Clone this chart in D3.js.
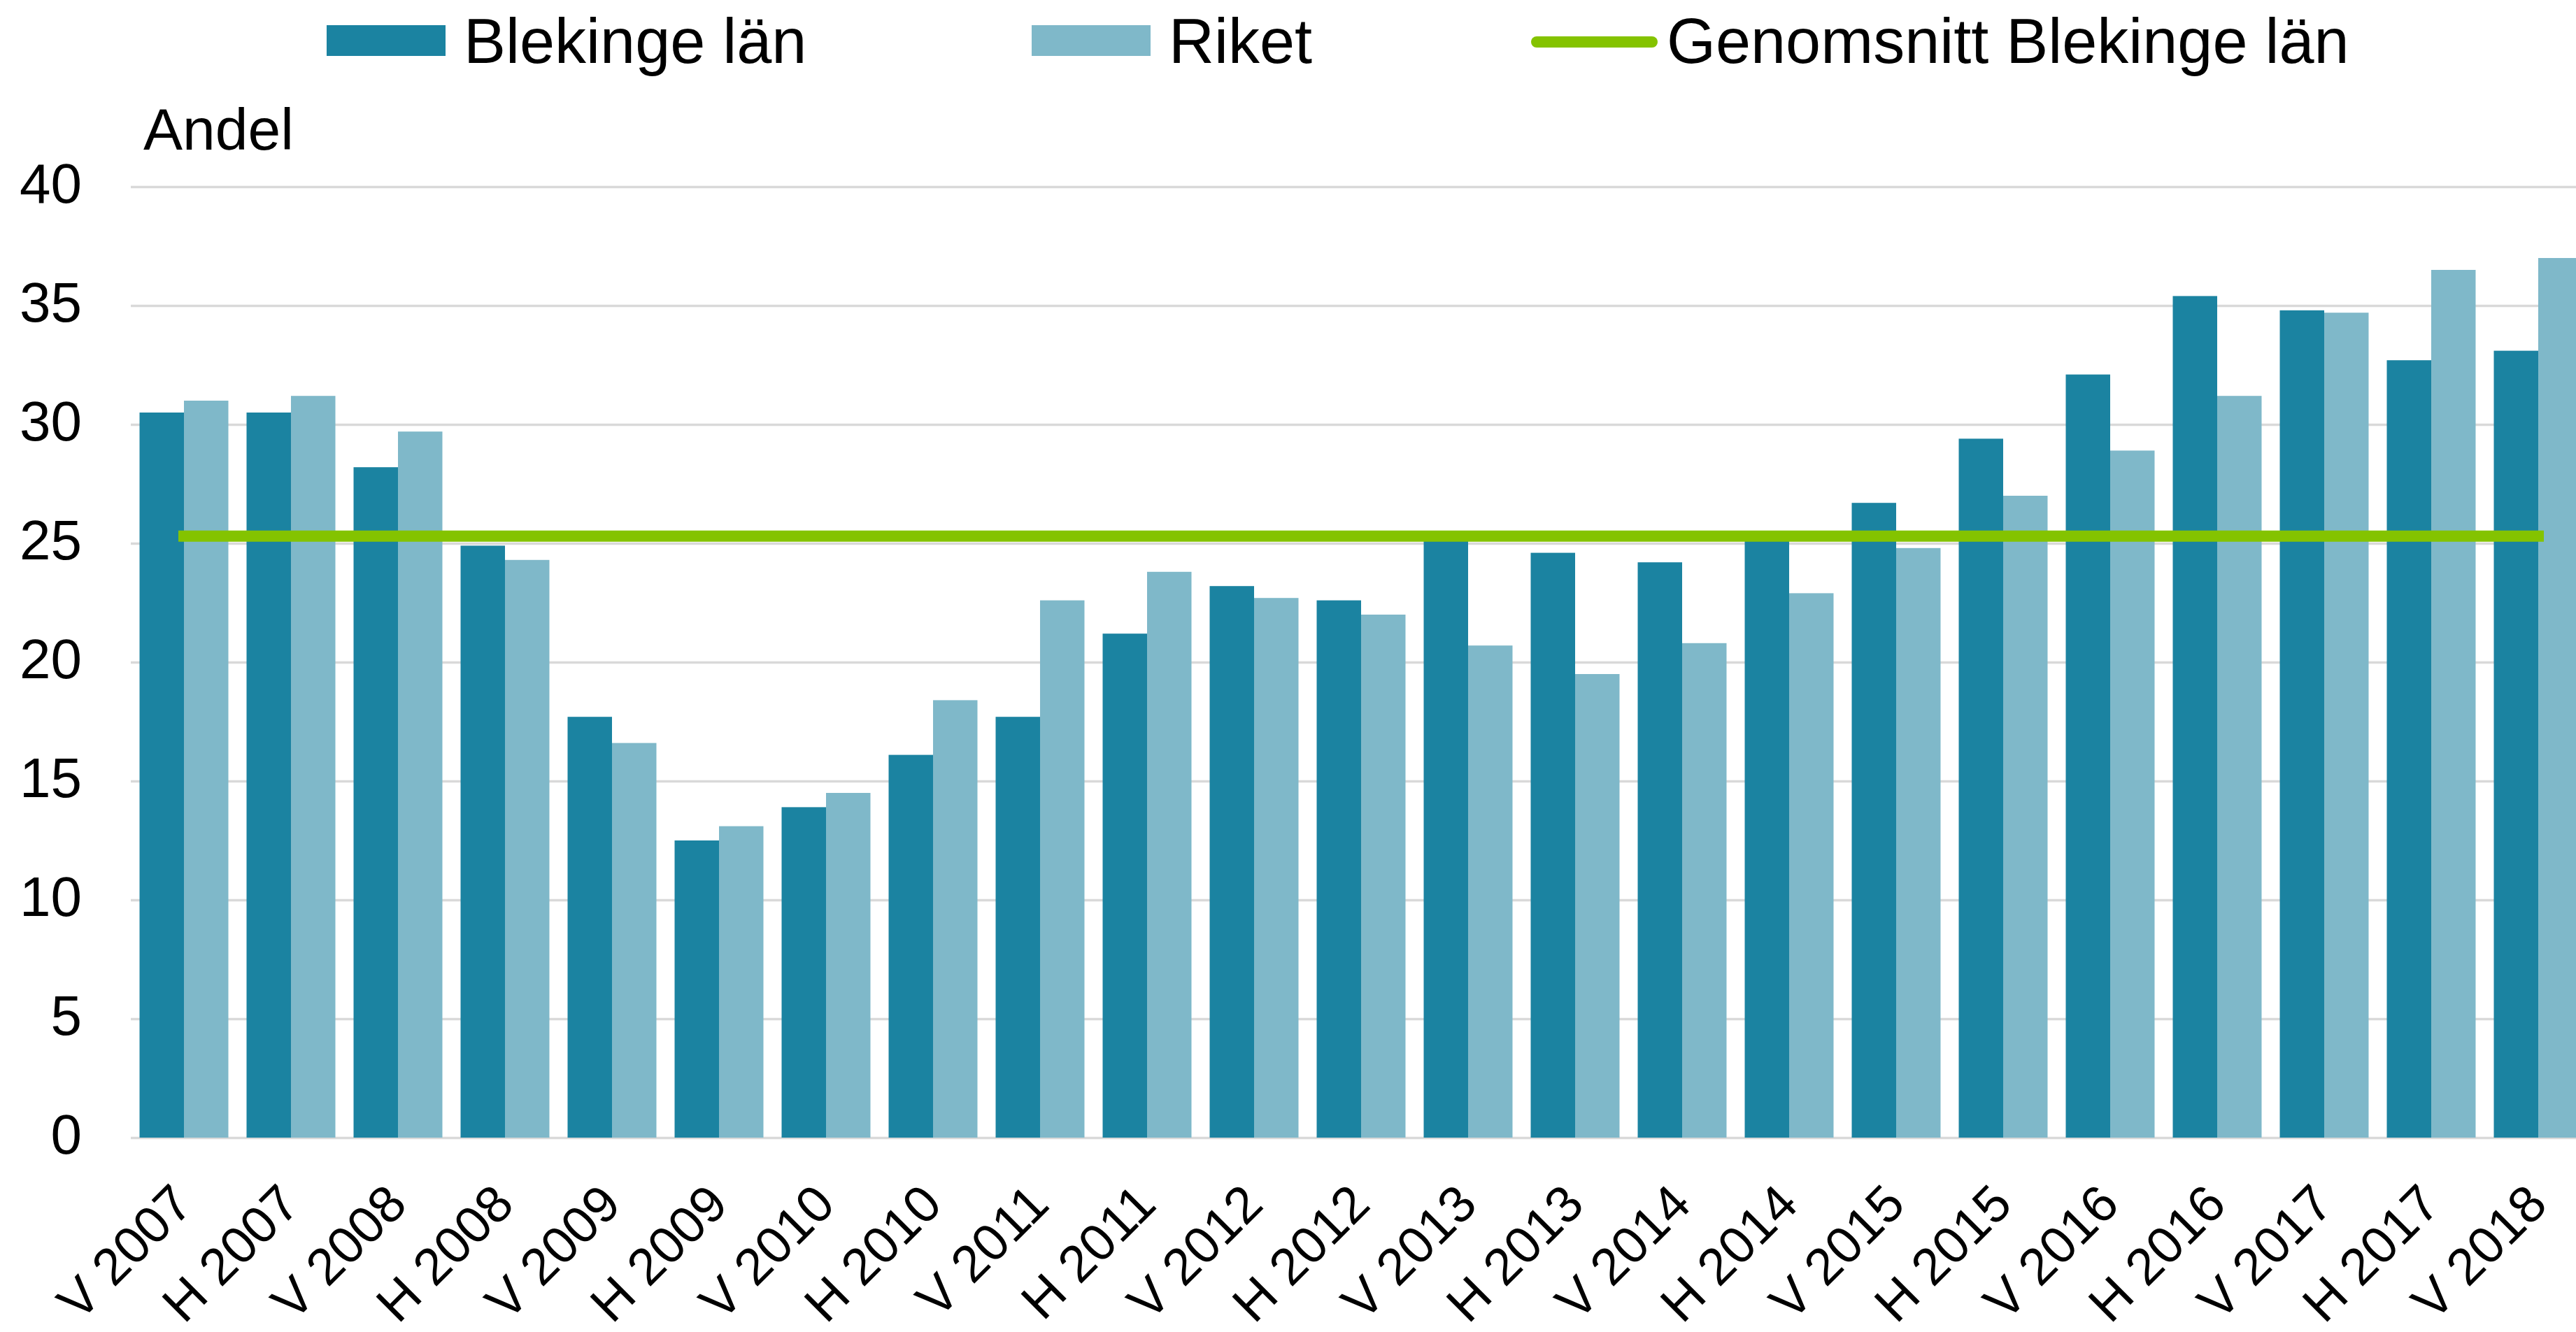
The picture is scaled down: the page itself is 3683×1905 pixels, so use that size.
<!DOCTYPE html>
<html>
<head>
<meta charset="utf-8">
<script src="https://cdn.jsdelivr.net/npm/d3@7"></script>
<style>
  body { margin: 0; background: #fff; }
  svg { display: block; font-family: "Liberation Sans", Arial, sans-serif; }
</style>
</head>
<body>
<div id="chart"></div>
<script>
// categories (half years)
let categories = ["V 2007", "H 2007", "V 2008", "H 2008", "V 2009", "H 2009", "V 2010", "H 2010",
                  "V 2011", "H 2011", "V 2012", "H 2012", "V 2013", "H 2013", "V 2014", "H 2014",
                  "V 2015", "H 2015", "V 2016", "H 2016", "V 2017", "H 2017", "V 2018"];
let blekinge = [30.5, 30.5, 28.2, 24.9, 17.7, 12.5, 13.9, 16.1, 17.7, 21.2, 23.2, 22.6,
                25.2, 24.6, 24.2, 25.2, 26.7, 29.4, 32.1, 35.4, 34.8, 32.7, 33.1];
let riket    = [31.0, 31.2, 29.7, 24.3, 16.6, 13.1, 14.5, 18.4, 22.6, 23.8, 22.7, 22.0,
                20.7, 19.5, 20.8, 22.9, 24.8, 27.0, 28.9, 31.2, 34.7, 36.5, 37.0];
let genomsnitt = 25.3;
let yTicks = [0, 5, 10, 15, 20, 25, 30, 35, 40];
let seriesNames = ["Blekinge län", "Riket"];
let lineName = "Genomsnitt Blekinge län";

let colors = {"Blekinge län": "#1b83a1", "Riket": "#7fb8c9"};
let lineColor = "#84c300";
let gridColor = "#d9d9d9";

let svgWidth = 3683, svgHeight = 1905;
let plotLeft = 186.5, step = 153;
let plotTop = 267, plotBottom = 1627;

let svg = d3.select("#chart").append("svg")
    .attr("width", svgWidth)
    .attr("height", svgHeight);

let x0 = d3.scaleBand()
    .domain(categories)
    .range([plotLeft, plotLeft + step * categories.length])
    .paddingInner(0.17)
    .paddingOuter(0.085);

let x1 = d3.scaleBand()
    .domain(seriesNames)
    .range([0, x0.bandwidth()]);

let y = d3.scaleLinear().domain([0, 40]).range([plotBottom, plotTop]);

// y axis with gridlines
let yAxis = svg.append("g")
    .attr("transform", "translate(" + 187 + ",0)")
    .call(d3.axisLeft(y).tickValues(yTicks).tickSize(-(svgWidth - 187)).tickPadding(70));
yAxis.select(".domain").remove();
yAxis.selectAll(".tick line")
    .attr("stroke", gridColor)
    .attr("stroke-width", 3.5);
yAxis.selectAll(".tick text")
    .attr("fill", "#000")
    .attr("font-size", "80px")
    .attr("dy", "0.28em")
    .attr("font-family", "Liberation Sans, Arial, sans-serif");

// bars
let rows = categories.map(function(c, i) {
    return {cat: c, values: [{name: "Blekinge län", v: blekinge[i]}, {name: "Riket", v: riket[i]}]};
});

let groups = svg.selectAll(".group")
    .data(rows)
    .enter()
    .append("g")
    .attr("transform", function(d) { return "translate(" + x0(d.cat) + ",0)"; });

groups.selectAll("rect")
    .data(function(d) { return d.values; })
    .enter()
    .append("rect")
    .attr("x", function(d) { return x1(d.name); })
    .attr("y", function(d) { return y(d.v); })
    .attr("width", x1.bandwidth())
    .attr("height", function(d) { return y(0) - y(d.v); })
    .attr("fill", function(d) { return colors[d.name]; });

// average line
let half = x0.bandwidth() / 2;
svg.append("line")
    .attr("x1", x0(categories[0]) + half)
    .attr("x2", x0(categories[categories.length - 1]) + half)
    .attr("y1", y(genomsnitt))
    .attr("y2", y(genomsnitt))
    .attr("stroke", lineColor)
    .attr("stroke-width", 16)
    .attr("stroke-linecap", "square");

// x axis labels
let xAxis = svg.append("g")
    .attr("transform", "translate(0," + plotBottom + ")")
    .call(d3.axisBottom(x0).tickSize(0));
xAxis.select(".domain").remove();
xAxis.selectAll(".tick text")
    .attr("fill", "#000")
    .attr("font-size", "74px")
    .attr("font-family", "Liberation Sans, Arial, sans-serif")
    .attr("text-anchor", "end")
    .attr("x", 0)
    .attr("y", 0)
    .attr("dy", 0)
    .attr("transform", "translate(16,99) rotate(-45)");

// y title
svg.append("text")
    .attr("x", 205)
    .attr("y", 214)
    .attr("font-size", "84px")
    .text("Andel");

// legend
let legend = svg.append("g").attr("font-size", "90px");
let legendItems = [
    {name: seriesNames[0], x: 467, type: "rect"},
    {name: seriesNames[1], x: 1475, type: "rect"},
    {name: lineName, x: 2189, type: "line"}
];
legendItems.forEach(function(item) {
    if (item.type === "rect") {
        legend.append("rect")
            .attr("x", item.x).attr("y", 36)
            .attr("width", 170).attr("height", 44)
            .attr("fill", colors[item.name]);
        legend.append("text")
            .attr("x", item.x + 196).attr("y", 90)
            .text(item.name);
    } else {
        legend.append("line")
            .attr("x1", item.x + 8).attr("x2", item.x + 173)
            .attr("y1", 60).attr("y2", 60)
            .attr("stroke", lineColor)
            .attr("stroke-width", 16)
            .attr("stroke-linecap", "round");
        legend.append("text")
            .attr("x", item.x + 194).attr("y", 90)
            .text(item.name);
    }
});
</script>
</body>
</html>
